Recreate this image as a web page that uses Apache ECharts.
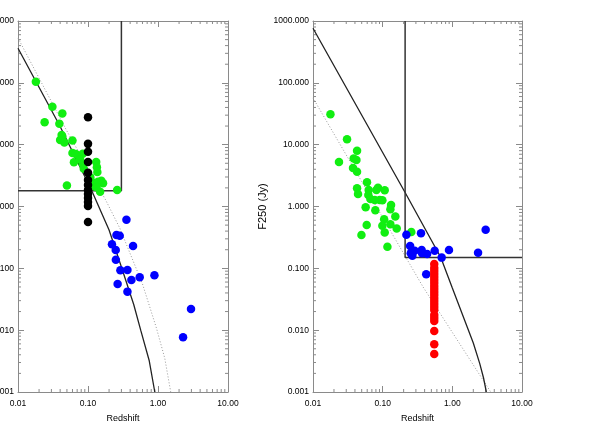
<!DOCTYPE html>
<html>
<head>
<meta charset="utf-8">
<title>Redshift vs F250</title>
<script src="https://cdn.jsdelivr.net/npm/echarts@6/dist/echarts.min.js"></script>
<style>
  html, body { margin: 0; padding: 0; background: #fff; }
  #chart { width: 589px; height: 434px; }
</style>
</head>
<body>
<div id="chart"></div>
<script>
// axis ranges
const Z_MIN = 0.01, Z_MAX = 10
const F_MIN = 0.001, F_MAX = 1000
const MINOR_STEPS = [2, 3, 4, 5, 6, 7, 8, 9]
const Z_DECADES = [0.01, 0.1, 1]
const F_DECADES = [0.001, 0.01, 0.1, 1, 10, 100]

// left panel
const LEFT_GREEN_Z = [0.018, 0.031, 0.043, 0.024, 0.039, 0.043, 0.040, 0.046, 0.060, 0.060, 0.067, 0.063, 0.084, 0.077, 0.084, 0.087, 0.131, 0.134, 0.136, 0.050, 0.108, 0.119, 0.126, 0.139, 0.155, 0.164, 0.149, 0.132, 0.261, 0.042]
const LEFT_GREEN_F = [104, 41, 32, 23, 21.7, 13.5, 11.9, 10.8, 11.7, 7.3, 7.06, 5.19, 7.14, 5.8, 4.87, 4.09, 5.25, 4.3, 3.61, 2.18, 2.97, 2.43, 2.1, 2.52, 2.61, 2.37, 1.73, 2.04, 1.85, 14.3]
const LEFT_BLACK_Z = [0.1, 0.1, 0.1, 0.1, 0.1, 0.1, 0.1, 0.1, 0.1, 0.1, 0.1, 0.1, 0.1]
const LEFT_BLACK_F = [27.7, 10.3, 7.7, 5.25, 3.52, 2.68, 2.23, 1.85, 1.59, 1.37, 1.18, 1.02, 0.56]
const LEFT_BLUE_Z = [0.354, 0.255, 0.284, 0.220, 0.440, 0.249, 0.250, 0.290, 0.366, 0.417, 0.548, 0.889, 0.265, 0.366, 2.96, 2.28]
const LEFT_BLUE_F = [0.611, 0.346, 0.337, 0.245, 0.230, 0.198, 0.138, 0.093, 0.094, 0.065, 0.072, 0.077, 0.056, 0.042, 0.022, 0.0077]
const LEFT_SOLID_Z = [0.01, 0.039, 0.112, 0.2, 0.3, 0.45, 0.566, 0.75, 0.9]
const LEFT_SOLID_F = [362, 20.8, 1.85, 0.417, 0.105, 0.026, 0.010, 0.0032, 0.001]
const LEFT_DOT_Z = [0.01, 0.049, 0.179, 0.284, 0.6, 0.95, 1.25, 1.52]
const LEFT_DOT_F = [531, 17.3, 1.27, 0.449, 0.056, 0.0108, 0.0035, 0.001]
const LEFT_BOX_Z = [0.01, 0.3, 0.3]
const LEFT_BOX_F = [1.8, 1.8, 1000]

// right panel
const RIGHT_GREEN_Z = [0.0178, 0.0308, 0.0429, 0.0236, 0.0384, 0.042, 0.0375, 0.0429, 0.0596, 0.0429, 0.0443, 0.063, 0.0623, 0.0857, 0.0813, 0.107, 0.0667, 0.0769, 0.0907, 0.099, 0.132, 0.129, 0.057, 0.0785, 0.105, 0.152, 0.159, 0.059, 0.0496, 0.099, 0.107, 0.117, 0.258, 0.129]
const RIGHT_GREEN_F = [31, 12.2, 8.0, 5.25, 6.0, 5.65, 4.2, 3.65, 2.46, 1.97, 1.59, 1.85, 1.53, 2.01, 1.85, 1.83, 1.32, 1.27, 1.27, 1.26, 1.06, 0.90, 0.97, 0.867, 0.62, 0.69, 0.44, 0.50, 0.346, 0.49, 0.38, 0.224, 0.387, 0.515]
const RIGHT_BLUE_Z = [0.219, 0.355, 3.01, 0.248, 0.288, 0.253, 0.267, 0.363, 0.368, 0.435, 0.558, 0.703, 0.895, 2.34, 0.422]
const RIGHT_BLUE_F = [0.35, 0.368, 0.42, 0.23, 0.193, 0.175, 0.16, 0.198, 0.175, 0.17, 0.193, 0.149, 0.198, 0.179, 0.080]
const RIGHT_RED_Z = [0.55, 0.55, 0.55, 0.55, 0.55, 0.55, 0.55, 0.55, 0.55, 0.55, 0.55, 0.55, 0.55, 0.55, 0.55, 0.55, 0.55, 0.55, 0.55, 0.55, 0.55, 0.55]
const RIGHT_RED_F = [0.117, 0.101, 0.0905, 0.081, 0.0724, 0.0647, 0.0579, 0.0518, 0.0463, 0.0414, 0.0371, 0.0331, 0.0296, 0.0265, 0.0237, 0.0212, 0.0176, 0.0157, 0.0141, 0.0097, 0.0059, 0.0041]
const RIGHT_SOLID_Z = [0.01, 0.207, 0.681, 1.0, 2.0, 2.47, 2.8, 3.08]
const RIGHT_SOLID_F = [762, 1.73, 0.151, 0.048, 0.0062, 0.0029, 0.0017, 0.001]
const RIGHT_DOT_Z = [0.01, 0.081, 0.38, 3.56]
const RIGHT_DOT_F = [57, 1.0, 0.05, 0.001]
const RIGHT_BOX_Z = [0.21, 0.21, 10]
const RIGHT_BOX_F = [1000, 0.15, 0.15]

const FONT = 'Liberation Sans, Helvetica, Arial, sans-serif'
const FRAME = '#8a8a8a'

const zip = (xs, ys) => xs.map((x, i) => [x, ys[i]])
const zMinor = Z_DECADES.flatMap(d => MINOR_STEPS.map(m => +(d * m).toPrecision(3)))
const fMinor = F_DECADES.flatMap(d => MINOR_STEPS.map(m => +(d * m).toPrecision(3)))

function zAxis(grid, pos, labels) {
  return {
    type: 'log', logBase: 10, gridIndex: grid, position: pos,
    min: Z_MIN, max: Z_MAX, splitNumber: 3,
    axisLine: { onZero: false, lineStyle: { color: FRAME, width: 1 } },
    axisTick: { inside: true, length: 6, lineStyle: { color: FRAME } },
    axisLabel: { show: labels, color: '#000', fontSize: 8.5, fontFamily: FONT, margin: 7,
      formatter: v => v.toFixed(2) },
    splitLine: { show: false },
    name: labels ? 'Redshift' : '', nameLocation: 'middle', nameGap: 22,
    nameTextStyle: { color: '#000', fontSize: 9, fontFamily: FONT }
  }
}

function fAxis(grid, pos, labels, title) {
  return {
    type: 'log', logBase: 10, gridIndex: grid, position: pos,
    min: F_MIN, max: F_MAX, splitNumber: 6,
    axisLine: { onZero: false, lineStyle: { color: FRAME, width: 1 } },
    axisTick: { inside: true, length: 6, lineStyle: { color: FRAME } },
    axisLabel: { show: labels, color: '#000', fontSize: 8.5, fontFamily: FONT, margin: 4,
      formatter: v => v.toFixed(3) },
    splitLine: { show: false },
    name: title || '', nameLocation: 'middle', nameGap: 45,
    nameTextStyle: { color: '#000', fontSize: 11, fontFamily: FONT }
  }
}

// short minor ticks on all four sides, placed through the axis scales
function minorTicks(xIdx, yIdx, dir) {
  const data = dir === 'x' ? zMinor.map(v => [v, F_MIN]) : fMinor.map(v => [Z_MIN, v])
  return {
    type: 'custom', xAxisIndex: xIdx, yAxisIndex: yIdx, silent: true, clip: false, z: 1,
    data: data,
    renderItem: function (params, api) {
      const style = { stroke: FRAME, lineWidth: 1 }
      if (dir === 'x') {
        const v = api.value(0)
        const a = api.coord([v, F_MIN]), b = api.coord([v, F_MAX])
        return { type: 'group', children: [
          { type: 'line', shape: { x1: a[0], y1: a[1], x2: a[0], y2: a[1] - 3 }, style: style },
          { type: 'line', shape: { x1: b[0], y1: b[1], x2: b[0], y2: b[1] + 3 }, style: style }
        ] }
      }
      const v = api.value(1)
      const a = api.coord([Z_MIN, v]), b = api.coord([Z_MAX, v])
      return { type: 'group', children: [
        { type: 'line', shape: { x1: a[0], y1: a[1], x2: a[0] + 3, y2: a[1] }, style: style },
        { type: 'line', shape: { x1: b[0], y1: b[1], x2: b[0] - 3, y2: b[1] }, style: style }
      ] }
    }
  }
}

function curve(xIdx, yIdx, zs, fs, dotted) {
  return {
    type: 'line', xAxisIndex: xIdx, yAxisIndex: yIdx, data: zip(zs, fs),
    showSymbol: false, smooth: false, z: 2,
    lineStyle: dotted ? { color: '#999', width: 1, type: [1, 2] } : { color: '#222', width: 1.3 }
  }
}

function box(xIdx, yIdx, zs, fs) {
  return {
    type: 'line', xAxisIndex: xIdx, yAxisIndex: yIdx, data: zip(zs, fs),
    showSymbol: false, z: 2, lineStyle: { color: '#333', width: 1.5 }
  }
}

function dots(xIdx, yIdx, zs, fs, color) {
  return {
    type: 'scatter', xAxisIndex: xIdx, yAxisIndex: yIdx, data: zip(zs, fs),
    symbol: 'circle', symbolSize: 8.5, z: 3, itemStyle: { color: color, opacity: 1 }
  }
}

const chart = echarts.init(document.getElementById('chart'), null, { renderer: 'canvas' })
chart.setOption({
  animation: false,
  backgroundColor: '#fff',
  grid: [
    { left: 18, top: 21, width: 210, height: 371, outerBoundsMode: 'none', containLabel: false },
    { left: 313, top: 21, width: 209, height: 371, outerBoundsMode: 'none', containLabel: false }
  ],
  xAxis: [zAxis(0, 'bottom', true), zAxis(0, 'top', false), zAxis(1, 'bottom', true), zAxis(1, 'top', false)],
  yAxis: [fAxis(0, 'left', true), fAxis(0, 'right', false), fAxis(1, 'left', true, 'F250 (Jy)'), fAxis(1, 'right', false)],
  series: [
    minorTicks(0, 0, 'x'), minorTicks(0, 0, 'y'),
    minorTicks(2, 2, 'x'), minorTicks(2, 2, 'y'),
    curve(0, 0, LEFT_DOT_Z, LEFT_DOT_F, true),
    curve(0, 0, LEFT_SOLID_Z, LEFT_SOLID_F, false),
    box(0, 0, LEFT_BOX_Z, LEFT_BOX_F),
    dots(0, 0, LEFT_GREEN_Z, LEFT_GREEN_F, '#11ee11'),
    dots(0, 0, LEFT_BLACK_Z, LEFT_BLACK_F, '#000000'),
    dots(0, 0, LEFT_BLUE_Z, LEFT_BLUE_F, '#0000ff'),
    curve(2, 2, RIGHT_DOT_Z, RIGHT_DOT_F, true),
    curve(2, 2, RIGHT_SOLID_Z, RIGHT_SOLID_F, false),
    box(2, 2, RIGHT_BOX_Z, RIGHT_BOX_F),
    dots(2, 2, RIGHT_GREEN_Z, RIGHT_GREEN_F, '#11ee11'),
    dots(2, 2, RIGHT_BLUE_Z, RIGHT_BLUE_F, '#0000ff'),
    dots(2, 2, RIGHT_RED_Z, RIGHT_RED_F, '#ff0000')
  ]
})
</script>
</body>
</html>
